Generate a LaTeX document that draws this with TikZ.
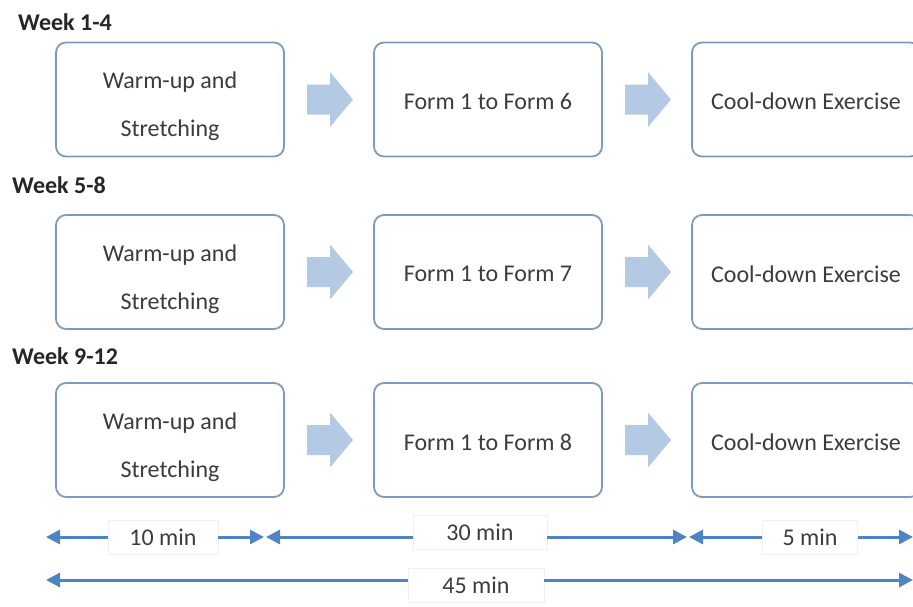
\documentclass[tikz,border=0pt]{standalone}
\usepackage{fontspec}
\setmainfont{Carlito}
\usetikzlibrary{arrows.meta}
\definecolor{boxline}{HTML}{7E9BBF}
\definecolor{blockfill}{HTML}{B4C9E4}
\definecolor{dimline}{HTML}{4F84C4}
\definecolor{txt}{HTML}{3C3C3C}
\tikzset{
  stage/.style={draw=boxline, line width=1.8pt, rounded corners=10pt, fill=white,
    minimum width=228pt, minimum height=114pt, inner sep=0pt},
  stagetext/.style={align=center, text=txt, inner sep=0pt,
    font=\fontsize{24}{48}\selectfont},
  weeklabel/.style={anchor=west, text=black!85, font=\fontsize{24}{28}\selectfont\bfseries, inner sep=0pt},
  flow/.style={fill=blockfill, draw=none},
  dim/.style={draw=dimline, line width=3pt},
  dimtip/.style={-{Triangle[length=14pt,width=14pt]}},
  timelabel/.style={draw=black!6, line width=0.4pt, fill=white, text=txt,
    font=\fontsize{24}{28}\selectfont, inner sep=0pt, minimum height=34pt}
}
\begin{document}
\begin{tikzpicture}[x=1pt,y=-1pt]
\useasboundingbox (0,0) rectangle (913,606);

% week headings
\node[weeklabel] (w1) at (18,22) {Week 1-4};
\node[weeklabel] (w2) at (12,185) {Week 5-8};
\node[weeklabel] (w3) at (12,356) {Week 9-12};

% three rows of stages with block arrows between them
\foreach \r/\y/\n in {1/99.5/6, 2/272/7, 3/440/8}{
  \node[stage] (a\r) at (170,\y) {};
  \node[stage] (b\r) at (488,\y) {};
  \node[stage] (c\r) at (806,\y) {};
  \node[stagetext] (at\r) at ([yshift=-7pt]a\r.center) {Warm-up and\\Stretching};
  \node[stagetext] (bt\r) at ([yshift=-2pt]b\r.center) {Form 1 to Form \n};
  \node[stagetext] (ct\r) at ([yshift=-2pt]c\r.center) {Cool-down Exercise};
  \coordinate (f\r) at (330,\y);
  \coordinate (g\r) at (648,\y);
  \foreach \p in {f\r, g\r}{
    \fill[flow, shift={(\p)}] (-23,-15) -- (0,-15) -- (0,-27.5) -- (23,0)
      -- (0,27.5) -- (0,15) -- (-23,15) -- cycle;
  }
}

% time spans
\coordinate (l1) at (46,537);
\coordinate (m1) at (265,537);
\coordinate (m2) at (688,537);
\coordinate (r1) at (913,537);
\coordinate (l2) at (46,580);
\coordinate (r2) at (913,580);

\node[timelabel, minimum width=110pt] (t10) at (163,537) {10 min};
\node[timelabel, minimum width=134pt] (t30) at (480,532) {30 min};
\node[timelabel, minimum width=95pt] (t5) at (810,537) {5 min};
\node[timelabel, minimum width=136pt] (t45) at (476,585) {45 min};

\draw[dim, dimtip] (t10.west |- l1) -- (l1);
\draw[dim, dimtip] (t10.east |- m1) -- ([xshift=-1pt]m1);
\draw[dim, dimtip] (t30.west |- m1) -- ([xshift=1pt]m1);
\draw[dim, dimtip] (t30.east |- m2) -- ([xshift=-1pt]m2);
\draw[dim, dimtip] (t5.west |- m2) -- ([xshift=1pt]m2);
\draw[dim, dimtip] (t5.east |- r1) -- (r1);
\draw[dim, dimtip] (t45.west |- l2) -- (l2);
\draw[dim, dimtip] (t45.east |- r2) -- (r2);
\end{tikzpicture}
\end{document}
